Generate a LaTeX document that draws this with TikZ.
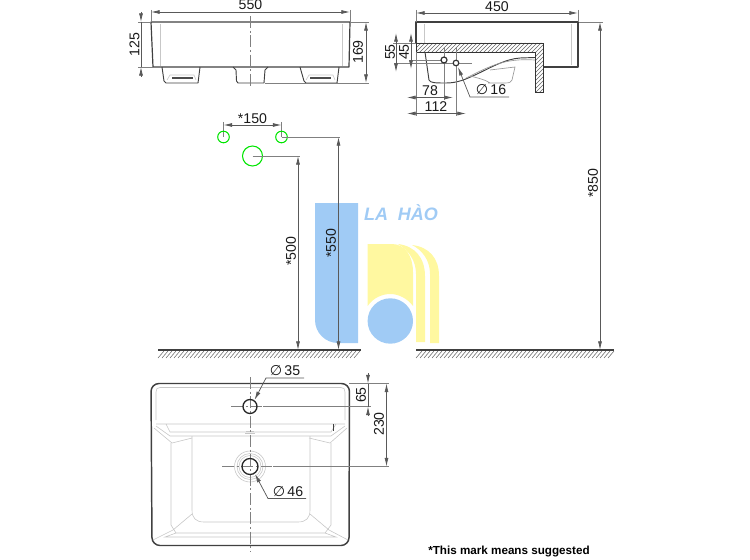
\documentclass[tikz,border=0pt]{standalone}
\usepackage{fontspec}
\setmainfont{Liberation Sans}
\newfontfamily\symfont{DejaVu Sans}
\usetikzlibrary{arrows.meta,patterns}
\definecolor{logoblue}{HTML}{A0CBF5}
\definecolor{logoyellow}{HTML}{FFF8A0}
\tikzset{
  dim label/.style={font=\fontsize{10.6}{11}\selectfont,inner sep=0pt,text=black!90},
  dim line/.style={draw=black!65,line width=.55pt,>={Latex[length=6.5pt,width=3pt]}},
  ext line/.style={draw=black!50,line width=.45pt},
  center line/.style={draw=black!50,line width=.45pt,dash pattern=on 9pt off 2pt on 1.5pt off 2pt},
  outline/.style={draw=black!75,line width=.9pt,line join=round},
  thin grey/.style={draw=black!22,line width=.45pt},
  hole/.style={draw=green!90!black,line width=.8pt},
  section/.style={draw=black!80,line width=.7pt,pattern=north east lines,pattern color=black!60},
}
\begin{document}
\begin{tikzpicture}[x=.75pt,y=-.75pt]
\useasboundingbox (0,0) rectangle (750,560);
% logo
\fill [logoblue] (315,203) -- (358,203) -- (358,343) -- (338,343) arc (90:180:23) -- cycle;
\fill [logoyellow] (367.7,244) -- (392,244) .. controls (405,244) and (413,256) .. (413,272) -- (413,306) .. controls (407,298) and (398,294) .. (390.3,294) .. controls (382,294) and (373,298) .. (367.7,306) -- cycle;
\fill [logoyellow] (398,244) .. controls (415,246) and (425,258) .. (425,276) -- (425,342) -- (416,342) -- (416,274) .. controls (416,260) and (408,250) .. (398,244) -- cycle;
\fill [logoyellow] (412,245) .. controls (429,247) and (439,258) .. (439,276) -- (439,343) -- (430,343) -- (430,274) .. controls (430,260) and (422,250) .. (412,245) -- cycle;
\fill [logoblue] (390.3,321) circle [radius=22.7];
\node [font=\fontsize{13.5}{14}\selectfont\bfseries\itshape,text=logoblue,inner sep=0pt](logotext) at (401,212.5) {LA\ \ HÀO};

% front view
\draw [thin grey] (160,24) -- (160,66) (342,24) -- (342,66);
\draw [outline] (151,22) -- (350,22) -- (349,67) -- (153,67) -- cycle;
\draw [outline,line width=.7pt] (162,67) -- (164,81) -- (166,83) -- (198,83) -- (200,67);
\draw [outline,line width=.7pt] (233,67) -- (236,70) -- (236.5,81) -- (238,83) -- (264,83) -- (265,70) -- (268,67);
\draw [outline,line width=.7pt] (300,67) -- (304,81) -- (306,83) -- (337,83) -- (339,67);
\draw [thin grey] (167,80) -- (170,75) -- (194,75) -- (196,80) (306,80) -- (309,75) -- (333,75) -- (335,80);
\draw [draw=black!70,line width=1pt] (172,78) -- (193,78) (310,78) -- (331,78);
\draw [center line] (250,16) -- (250,88);
\node [dim label](w550) at (250.5,5) {550};
\draw [ext line] (151,10) -- (151,22) (350,10) -- (350,22);
\draw [dim line,<->] (151,12) -- (350,12);
\node [dim label,rotate=90](h125) at (134.5,44.5) {125};
\draw [ext line] (138,22) -- (151,22) (138,67) -- (153,67);
\draw [dim line,->] (141,12) -- (141,22);
\draw [dim line,->] (141,77) -- (141,67);
\draw [dim line] (141,22) -- (141,67);
\node [dim label,rotate=90](h169) at (358,52) {169};
\draw [ext line] (350,22) -- (369,22) (265,83) -- (369,83);
\draw [dim line,<->] (366,22) -- (366,83);

% holes on the wall
\node [dim label](w150) at (252.5,118.5) {*150};
\draw [ext line] (223.5,122) -- (223.5,137) (281.5,122) -- (281.5,137);
\draw [dim line,<->] (223.5,125) -- (281.5,125);
\draw [hole] (223.5,137) circle [radius=5.8];
\draw [hole] (281.5,137) circle [radius=5.8];
\draw [hole] (252.5,156) circle [radius=10];
\draw [ext line] (252.5,156) -- (300,156) (281.5,137) -- (340,137);
\draw [dim line,<->] (298,156) -- (298,350);
\draw [dim line,<->] (338.5,137) -- (338.5,350);
\node [dim label,rotate=90](h500) at (291,251) {*500};
\node [dim label,rotate=90](h550) at (331,243) {*550};
\node [dim label,rotate=90](h850) at (593,183) {*850};
\draw [ext line] (578,22) -- (603,22);
\draw [dim line,<->] (600,22) -- (600,350);

% floor
\draw [draw=black!75,line width=.8pt] (158,350) -- (361,350) (416,350) -- (614,350);
\foreach \x in {158,162,...,356}
  \draw [draw=black!60,line width=.4pt] (\x,358) -- (\x+6,351);
\foreach \x in {416,420,...,608}
  \draw [draw=black!60,line width=.4pt] (\x,358) -- (\x+6,351);

% side view
\draw [thin grey] (424,24) -- (424,43) (571,24) -- (571,65);
\draw [outline] (416,43) -- (416,22) -- (578,22) -- (578,67) -- (543,67);
\draw [section] (416,43) -- (543,43) -- (543,92) -- (535,92) -- (535,52) -- (416,52) -- cycle;
\draw [draw=black!75,line width=.7pt] (425,52) -- (429,80) .. controls (430,83) and (436,83) .. (446,83) .. controls (458,83) and (466,79) .. (475,75) .. controls (490,68) and (505,59) .. (520,58) -- (535,57.5);
\draw [draw=black!40,line width=.5pt] (466,78) .. controls (490,66) and (505,58) .. (535,60) (490,70) -- (515,67) -- (512,80) .. controls (511,82) and (510,83) .. (505,83) -- (488,83) (470,76) .. controls (478,78) and (486,80) .. (490,83);
\draw [ext line] (444,47) -- (444,100) (456,47) -- (456,116) (409,60) -- (444,60) (394,63) -- (472,63);
\draw [ext line] (393,43) -- (416,43) (416,52) -- (416,116);
\draw [draw=black!80,line width=.9pt,fill=white] (444,60) circle [radius=3];
\draw [draw=black!80,line width=.9pt,fill=white] (456,63) circle [radius=2.8];
\node [dim label](w450) at (497,7) {450};
\draw [ext line] (416,10) -- (416,22) (578,10) -- (578,22);
\draw [dim line,<->] (416,13) -- (578,13);
\node [dim label,rotate=90](h55) at (390,52) {55};
\draw [dim line,<->] (396,33) -- (396,72);
\node [dim label,rotate=90](h45) at (404,52) {45};
\draw [dim line,<->] (411,33) -- (411,69);
\node [dim label](w78) at (430,91) {78};
\draw [dim line,<->] (407,97.5) -- (453,97.5);
\node [dim label](w112) at (436,107) {112};
\draw [dim line,<->] (407,113.5) -- (466,113.5);
\node [dim label](d16) at (491,90) {{\symfont ∅}\,16};
\draw [dim line,<-] (458,67) -- (470,97) -- (509,97);

% top view
\draw [thin grey] (156,420) -- (156,392) .. controls (156,389) and (157,387.5) .. (160,387.5) -- (341,387.5) .. controls (344,387.5) and (345,389) .. (345,392) -- (345,420);
\draw [thin grey] (156,424) -- (345,424) (166,424) -- (170,432) -- (331,432) -- (336,424) (156,426) -- (170,436) -- (331,436) -- (345,426);
\draw [thin grey] (154,428) -- (172,443) -- (192,438) (347,428) -- (330,443) -- (309,438);
\draw [thin grey] (192,436) -- (192,510) .. controls (192,518) and (196,522) .. (204,522) -- (298,522) .. controls (306,522) and (310,518) .. (310,510) -- (310,436);
\draw [thin grey] (171,443) -- (171,525) -- (176,533) -- (325,533) -- (331,525) -- (331,443);
\draw [thin grey] (192,514) -- (173,530) -- (153,540) (310,514) -- (329,530) -- (348,540) (176,533) -- (165,537) -- (336,537) -- (325,533);
\draw [thin grey] (245,433) -- (255,433) (246,431.5) -- (254,431.5);
\draw [draw=black!75,line width=.7pt] (333.5,424) -- (333.5,431);
\draw [outline,line width=1.1pt,rounded corners=6pt] (151,383.5) -- (349.5,383.5) -- (349,545.5) -- (152,545.5) -- cycle;
\foreach \r in {11,13,15.5}
  \draw [thin grey] (250,466.5) circle [radius=\r];
\draw [center line] (250,377) -- (250,552);
\draw [center line] (231,406.5) -- (262,406.5) (222,466.5) -- (272,466.5);
\draw [ext line] (263,406.5) -- (371,406.5) (273,466.5) -- (389,466.5) (349,383.5) -- (389,383.5);
\draw [draw=black!85,line width=1pt] (250,406.5) circle [radius=7];
\draw [draw=black!85,line width=1pt] (250,466.5) circle [radius=8];
\node [dim label](d35) at (285,371) {{\symfont ∅}\,35};
\draw [dim line,<-] (254.5,400) -- (266,378) -- (304,378);
\node [dim label](d46) at (288,492) {{\symfont ∅}\,46};
\draw [dim line,<-] (255,474) -- (268,498.5) -- (306,498.5);
\node [dim label,rotate=90](h65) at (361,395) {65};
\draw [dim line,->] (368,373) -- (368,383.5);
\draw [dim line,->] (368,416) -- (368,406.5);
\draw [dim line] (368,383.5) -- (368,406.5);
\node [dim label,rotate=90](h230) at (379,424) {230};
\draw [dim line,<->] (386.5,383.5) -- (386.5,466.5);
\node [font=\fontsize{8.75}{10}\selectfont,inner sep=0pt,anchor=west](note) at (428,552) {\textbf{*This mark means suggested}};
\end{tikzpicture}
\end{document}
